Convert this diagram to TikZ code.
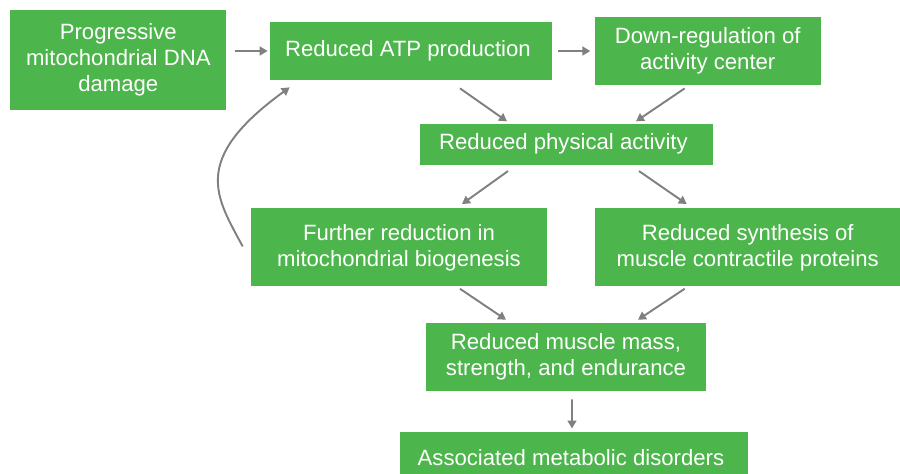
\documentclass[tikz,border=0pt]{standalone}
\usepackage{fontspec}
\setmainfont{Liberation Sans}
\usepackage{tikz}
\usetikzlibrary{arrows.meta,positioning}

\definecolor{boxgreen}{RGB}{76,181,75}
\definecolor{arrowgray}{RGB}{128,128,128}

\begin{document}
\begin{tikzpicture}[
    font=\fontsize{12.6}{14.8}\selectfont,
    box/.style={
        fill=boxgreen,
        text=white,
        align=center,
        inner sep=0pt
    },
    arrow/.style={
        -{Triangle[length=4.5pt,width=5pt]},
        draw=arrowgray,
        line width=1.1pt
    }
]
\useasboundingbox (0,0) rectangle (18,-9.46);

\node[box, minimum width=5.64cm, minimum height=1.16cm] (atp) at (8.22,-1.02) {
    Reduced ATP production
};

\node[box, minimum width=4.32cm, minimum height=2cm,
      left=0.86cm of atp, yshift=-0.18cm] (dna) {
    Progressive\\
    mitochondrial DNA\\
    damage
};

\node[box, minimum width=4.52cm, minimum height=1.36cm,
      right=0.84cm of atp] (downreg) {
    Down-regulation of\\
    activity center
};

\node[box, minimum width=5.86cm, minimum height=0.82cm,
      below=0.86cm of atp, xshift=3.11cm] (physical) {
    Reduced physical activity
};

\node[box, minimum width=5.92cm, minimum height=1.56cm,
      below=0.86cm of physical, xshift=-3.35cm] (biogen) {
    Further reduction in\\
    mitochondrial biogenesis
};

\node[box, minimum width=6.12cm, minimum height=1.56cm,
      right=0.94cm of biogen] (synthesis) {
    Reduced synthesis of\\
    muscle contractile proteins
};

\node[box, minimum width=5.6cm, minimum height=1.36cm,
      below=0.72cm of biogen, xshift=3.34cm] (muscle) {
    Reduced muscle mass,\\
    strength, and endurance
};

\node[box, minimum width=6.96cm, minimum height=1.04cm,
      below=0.8cm of muscle, xshift=0.16cm] (metabolic) {
    Associated metabolic disorders
};

\draw[arrow, shorten <=0.16cm, shorten >=0.04cm] (dna.east |- atp.west) -- (atp.west);
\draw[arrow, shorten <=0.12cm, shorten >=0.08cm] (atp) -- (downreg);
\draw[arrow] ([xshift=0.98cm,yshift=-0.16cm]atp.south) -- ([xshift=-1.19cm,yshift=0.04cm]physical.north);
\draw[arrow] ([xshift=-0.46cm,yshift=-0.06cm]downreg.south) -- ([xshift=1.39cm,yshift=0.04cm]physical.north);
\draw[arrow] ([xshift=-1.17cm,yshift=-0.12cm]physical.south) -- ([xshift=1.26cm,yshift=0.08cm]biogen.north);
\draw[arrow] ([xshift=1.45cm,yshift=-0.12cm]physical.south) -- ([xshift=-1.22cm,yshift=0.08cm]synthesis.north);
\draw[arrow] ([xshift=1.22cm,yshift=-0.04cm]biogen.south) -- ([xshift=-1.2cm,yshift=0.06cm]muscle.north);
\draw[arrow] ([xshift=-1.26cm,yshift=-0.04cm]synthesis.south) -- ([xshift=1.44cm,yshift=0.06cm]muscle.north);
\draw[arrow] ([xshift=0.12cm,yshift=-0.16cm]muscle.south) -- ([xshift=-0.04cm,yshift=0.06cm]metabolic.north);
\draw[arrow] ([xshift=-0.16cm,yshift=0.02cm]biogen.west)
    to[out=118, in=216, out distance=1.11cm, in distance=2.48cm]
    ([xshift=0.4cm,yshift=-0.14cm]atp.south west);

\end{tikzpicture}
\end{document}
